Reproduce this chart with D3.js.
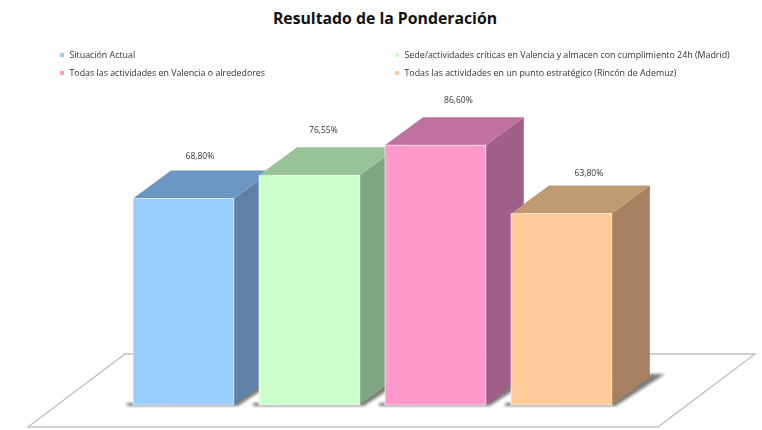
<!DOCTYPE html>
<html>
<head>
<meta charset="utf-8">
<script src="https://cdn.jsdelivr.net/npm/d3@7"></script>
<style>
  html, body { margin: 0; padding: 0; background: #fff; }
  text { font-family: "Open Sans", sans-serif; }
</style>
</head>
<body>
<div id="chart"></div>
<script>
var categories = [
  'Situación Actual',
  'Sede/actividades críticas en Valencia y almacen con cumplimiento 24h (Madrid)',
  'Todas las actividades en Valencia o alrededores',
  'Todas las actividades en un punto estratégico (Rincón de Ademuz)'
];
var values = [68.80, 76.55, 86.60, 63.80];
var frontColors = ['#99ccff', '#ccffcc', '#ff99cc', '#ffcc99'];
var topColors = ['#6c97c2', '#98c298', '#c0709c', '#c09a70'];
var sideColors = ['#6080a6', '#80a583', '#a0608a', '#a68060'];

var width = 762, height = 430;
var depthX = 38, depthY = 28; // fake 3d offset
var baseY = 405;

var svg = d3.select('#chart').append('svg')
  .attr('width', width)
  .attr('height', height);

var defs = svg.append('defs');
defs.append('filter').attr('id', 'soft')
  .attr('x', '-20%').attr('y', '-20%').attr('width', '140%').attr('height', '140%')
  .append('feGaussianBlur').attr('stdDeviation', 1.4);
defs.append('filter').attr('id', 'txt')
  .append('feGaussianBlur').attr('stdDeviation', 0.3);

var x = d3.scaleBand()
  .domain(categories)
  .range([120.4, 624.4])
  .paddingInner(0.2)
  .paddingOuter(0.1);

var y = d3.scaleLinear()
  .domain([0, 100])
  .range([baseY, baseY - 300]);

svg.append('text')
  .attr('x', 385)
  .attr('y', 24)
  .attr('text-anchor', 'middle')
  .attr('font-size', 15.8)
  .attr('font-weight', 700)
  .attr('fill', '#111')
  .text('Resultado de la Ponderación');

// floor
svg.append('path')
  .attr('d', 'M125,354 L755,354 L658,427 L28,427 Z')
  .attr('fill', '#fff')
  .attr('stroke', '#c2c2c2')
  .attr('stroke-width', 1.4);

// legend, two columns two rows, filled row by row
var legendX = [62, 397];
var legendY = [55, 73];
var legend = svg.selectAll('.legend')
  .data(categories)
  .enter().append('g')
  .attr('class', 'legend')
  .attr('filter', 'url(#txt)')
  .attr('transform', function (d, i) {
    return 'translate(' + legendX[i % 2] + ',' + legendY[Math.floor(i / 2)] + ')';
  });

legend.append('rect')
  .attr('x', -2).attr('y', -2)
  .attr('width', 4).attr('height', 4)
  .attr('fill', function (d, i) { return frontColors[i]; });

legend.append('text')
  .attr('x', 7.5)
  .attr('y', 3)
  .attr('font-size', 8.85)
  .attr('fill', '#333')
  .text(function (d) { return d; });

var bars = svg.selectAll('.bar')
  .data(values)
  .enter().append('g')
  .attr('class', 'bar');

// shadow on the floor, under every bar
bars.append('path')
  .attr('filter', 'url(#soft)')
  .attr('fill', '#7c7c7c')
  .attr('d', function (d, i) {
    var l = x(categories[i]), r = l + x.bandwidth();
    return 'M' + (l - 6) + ',' + (baseY + 1) + 'L' + (r + 4) + ',' + (baseY + 1) +
      'L' + (r + depthX + 15) + ',' + (baseY - depthY - 3) + 'L' + (r + depthX - 8) + ',' + (baseY - depthY - 3) +
      'L' + r + ',' + (baseY - 4) + 'L' + (l - 6) + ',' + (baseY - 2) + 'Z';
  });

bars.append('path')
  .attr('fill', function (d, i) { return sideColors[i]; })
  .attr('d', function (d, i) {
    var r = x(categories[i]) + x.bandwidth();
    return 'M' + r + ',' + y(d) + 'L' + (r + depthX) + ',' + (y(d) - depthY) +
      'L' + (r + depthX) + ',' + (baseY - depthY) + 'L' + r + ',' + baseY + 'Z';
  });

bars.append('path')
  .attr('fill', function (d, i) { return topColors[i]; })
  .attr('d', function (d, i) {
    var l = x(categories[i]), r = l + x.bandwidth();
    return 'M' + l + ',' + y(d) + 'L' + (l + depthX) + ',' + (y(d) - depthY) +
      'L' + (r + depthX) + ',' + (y(d) - depthY) + 'L' + r + ',' + y(d) + 'Z';
  });

bars.append('rect')
  .attr('x', function (d, i) { return x(categories[i]); })
  .attr('y', function (d) { return y(d); })
  .attr('width', x.bandwidth())
  .attr('height', function (d) { return baseY - y(d); })
  .attr('fill', function (d, i) { return frontColors[i]; })
  .attr('stroke', 'rgba(255,255,255,0.55)')
  .attr('stroke-width', 1);

var labelDx = [16.5, 14, 23, 27.5];
var labelDy = [39.5, 42, 42, 38];

svg.selectAll('.value')
  .data(values)
  .enter().append('text')
  .attr('class', 'value')
  .attr('filter', 'url(#txt)')
  .attr('x', function (d, i) { return x(categories[i]) + x.bandwidth() / 2 + labelDx[i]; })
  .attr('y', function (d, i) { return y(d) - labelDy[i]; })
  .attr('text-anchor', 'middle')
  .attr('font-size', 8.5)
  .attr('fill', '#333')
  .text(function (d) { return d3.format('.2f')(d).replace('.', ',') + '%'; });
</script>
</body>
</html>
